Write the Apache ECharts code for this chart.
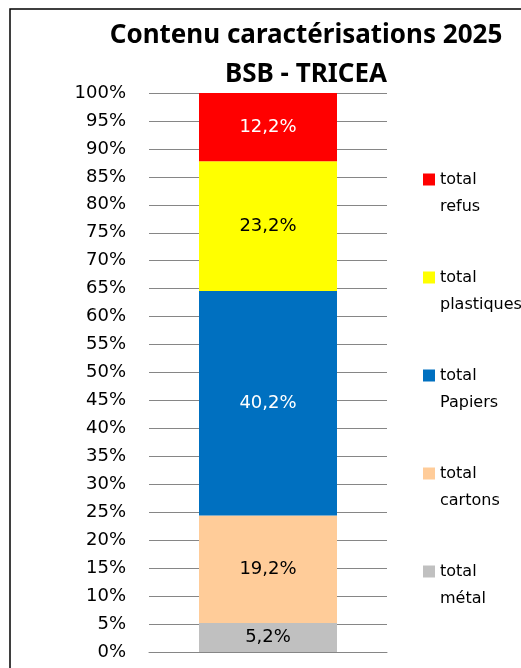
<!DOCTYPE html>
<html>
<head>
<meta charset="utf-8">
<script src="https://cdn.jsdelivr.net/npm/echarts@6/dist/echarts.min.js"></script>
<style>
  html, body { margin: 0; padding: 0; background: #fff; }
  #chart { width: 521px; height: 668px; }
</style>
</head>
<body>
<div id="chart"></div>
<script>
// données
var categories = ['BSB - TRICEA'];
var seriesNames = ['total métal', 'total cartons', 'total Papiers', 'total plastiques', 'total refus'];
var seriesValues = [[5.2], [19.2], [40.2], [23.2], [12.2]];
var seriesColors = ['#C0C0C0', '#FFCC99', '#0070C0', '#FFFF00', '#FF0000'];
var labelColors = ['#000', '#000', '#fff', '#000', '#fff'];
var yTicks = { min: 0, max: 100, step: 5 };

var series = seriesNames.map(function (name, i) {
  return {
    name: name,
    type: 'bar',
    stack: 'total',
    barWidth: 138,
    data: seriesValues[i],
    itemStyle: { color: seriesColors[i] },
    label: {
      show: true,
      position: 'inside',
      color: labelColors[i],
      fontFamily: 'DejaVu Sans',
      fontSize: 18,
      formatter: function (p) {
        return p.value.toFixed(1).replace('.', ',') + '%';
      }
    }
  };
});

var option = {
  animation: false,
  backgroundColor: '#fff',
  title: {
    text: 'Contenu caractérisations 2025\nBSB - TRICEA',
    left: 306,
    top: 16,
    textAlign: 'center',
    padding: 0,
    textStyle: {
      fontFamily: 'Noto Sans',
      fontWeight: 'bold',
      fontSize: 26,
      lineHeight: 39,
      color: '#000'
    }
  },
  legend: {
    orient: 'vertical',
    left: 423,
    top: 139,
    padding: 0,
    itemWidth: 12,
    itemHeight: 12,
    itemGap: 17,
    icon: 'rect',
    data: seriesNames.slice().reverse(),
    formatter: function (name) {
      return '\n' + name.replace(' ', '\n');
    },
    textStyle: {
      fontFamily: 'DejaVu Sans',
      fontSize: 16,
      lineHeight: 27,
      color: '#000'
    }
  },
  grid: { left: 149, right: 134, top: 93, bottom: 16 },
  xAxis: {
    type: 'category',
    data: categories,
    axisLine: { show: true, lineStyle: { color: '#868686' } },
    axisTick: { show: false },
    axisLabel: { show: false }
  },
  yAxis: {
    type: 'value',
    min: yTicks.min,
    max: yTicks.max,
    interval: yTicks.step,
    axisLine: { show: false },
    axisTick: { show: false },
    axisLabel: {
      formatter: '{value}%',
      margin: 23,
      fontFamily: 'DejaVu Sans',
      fontSize: 18,
      color: '#000'
    },
    splitLine: { lineStyle: { color: '#868686', width: 1 } }
  },
  graphic: [{
    type: 'rect',
    shape: { x: 10, y: 9, width: 600, height: 700 },
    style: { fill: null, stroke: '#000', lineWidth: 1.5 },
    silent: true
  }],
  series: series
};

var chart = echarts.init(document.getElementById('chart'));
chart.setOption(option);
</script>
</body>
</html>
